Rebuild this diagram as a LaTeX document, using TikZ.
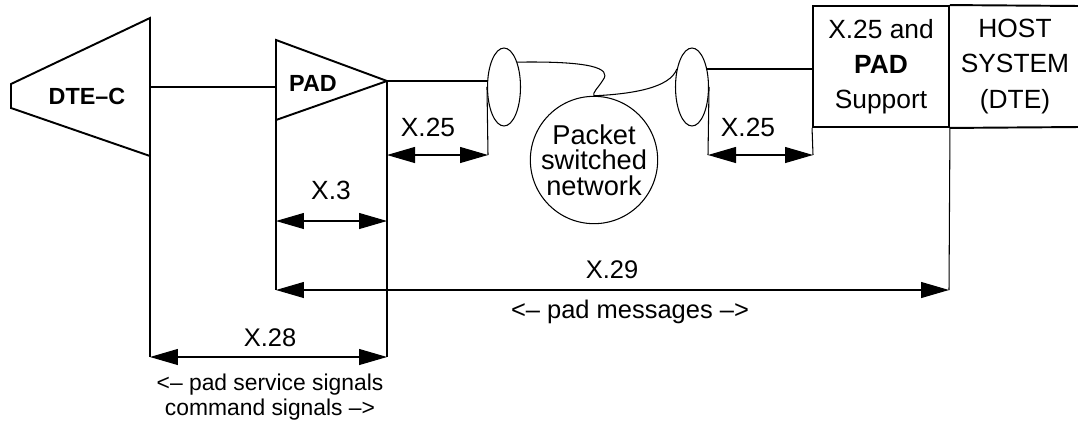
\documentclass[tikz,border=0pt]{standalone}
\usepackage{fontspec}
\setmainfont{Liberation Sans}
\usetikzlibrary{arrows.meta, shapes.geometric}

\begin{document}
\begin{tikzpicture}[
    x=0.02cm, y=-0.02cm,
    wire/.style={line width=1.1pt},
    dimline/.style={line width=0.6pt},
    dimarrow/.style={{Triangle[length=5.6mm, width=3.2mm]}-{Triangle[length=5.6mm, width=3.2mm]}, line width=0.6pt},
    lbl/.style={font=\fontsize{15}{15}\selectfont, inner sep=0pt},
    tag/.style={font=\fontsize{13.3}{13.3}\selectfont\bfseries, inner sep=0pt},
    lens/.style={draw, ellipse, line width=0.6pt, minimum width=0.66cm, minimum height=1.56cm, inner sep=0pt},
    unit/.style={line width=1.1pt, minimum width=2.72cm, minimum height=2.42cm, inner sep=0pt, align=center, font=\fontsize{15}{20}\selectfont}
  ]
  \useasboundingbox (0,0) rectangle (1078,430);

  % DTE-C terminal
  \coordinate (dteNW) at (150,18);
  \coordinate (dteSE) at (150,156);
  \coordinate (dteport) at (150,87);
  \draw[wire] (11,84) -- (dteNW) -- (dteSE) -- (11,108) -- cycle;
  \node[tag] (dte) at (87,96) {DTE--C};

  % PAD
  \coordinate (padN) at (276,40);
  \coordinate (padS) at (276,120);
  \coordinate (padport) at (276,87);
  \coordinate (padtip) at (387,81);
  \draw[wire] (padN) -- (padtip) -- (padS) -- cycle;
  \node[tag] (pad) at (313,83) {PAD};

  % network
  \node[lens] (lenL) at (504,87) {};
  \node[lens] (lenR) at (692,87) {};
  \node[draw, circle, line width=0.6pt, minimum size=2.48cm, inner sep=0pt, align=center,
        font=\fontsize{15.5}{14.5}\selectfont] (net) at (594,160) {Packet\\switched\\network};

  % host side
  \node[unit, draw] (sup) at (881,66.5) {X.25 and\\\textbf{PAD}\\Support};
  \node[unit] (host) at (1015,66.5) {HOST\\SYSTEM\\(DTE)};
  \coordinate (hostNE) at (1080,6);
  \coordinate (hostSE) at (1080,127);
  \draw[wire] (sup.north east) -- (hostNE);
  \draw[wire] (sup.south east) -- (hostSE);

  % wires
  \draw[wire] (dteport) -- (padport);
  \draw[wire] (padtip) -- (padtip -| lenL.west);
  \draw[wire] (lenR.50) -- (lenR.50 -| sup.west);
  \draw[dimline] (lenL.62) .. controls (590,61) and (612,68) .. (603,80)
    .. controls (598,88) and (592,93) .. (net.north)
    .. controls (632,94) and (670,88) .. (lenR.130);

  % dimension levels
  \coordinate (x25a) at (387,155);
  \coordinate (x25b) at (488,155);
  \coordinate (x25c) at (708,155);
  \coordinate (x25d) at (813,155);
  \coordinate (x3L) at (276,221);
  \coordinate (x3R) at (387,221);
  \coordinate (x29L) at (276,290);
  \coordinate (x29R) at (949,290);
  \coordinate (x28L) at (150,357);
  \coordinate (x28R) at (387,357);

  % extension lines
  \draw[dimline] (dteSE) -- (x28L);
  \draw[dimline] (padtip) -- (x28R);
  \draw[dimline] (padS) -- (x29L);
  \draw[dimline] (lenL.west) -- (x25b);
  \draw[dimline] (lenR.east) -- (x25c);
  \draw[dimline] (sup.south west) -- (x25d);
  \draw[dimline] (sup.south east) -- (x29R);

  % dimension arrows
  \draw[dimarrow] (x25a) -- (x25b);
  \draw[dimarrow] (x25c) -- (x25d);
  \draw[dimarrow] (x3L) -- (x3R);
  \draw[dimarrow] (x29L) -- (x29R);
  \draw[dimarrow] (x28L) -- (x28R);

  % labels
  \node[lbl] (l25a) at (428,127) {X.25};
  \node[lbl] (l25b) at (748,127) {X.25};
  \node[lbl] (l3) at (331,190) {X.3};
  \node[lbl, font=\fontsize{14.5}{14.5}\selectfont] (l29) at (612,270) {X.29};
  \node[lbl, font=\fontsize{14.5}{14.5}\selectfont] (lmsg) at (630,312) {<– pad messages –>};
  \node[lbl, font=\fontsize{14.5}{14.5}\selectfont] (l28) at (270,338) {X.28};
  \node[lbl, align=center, font=\fontsize{13}{14.2}\selectfont] (lsig) at (270,397)
    {<– pad service signals\\command signals –>};
\end{tikzpicture}
\end{document}
